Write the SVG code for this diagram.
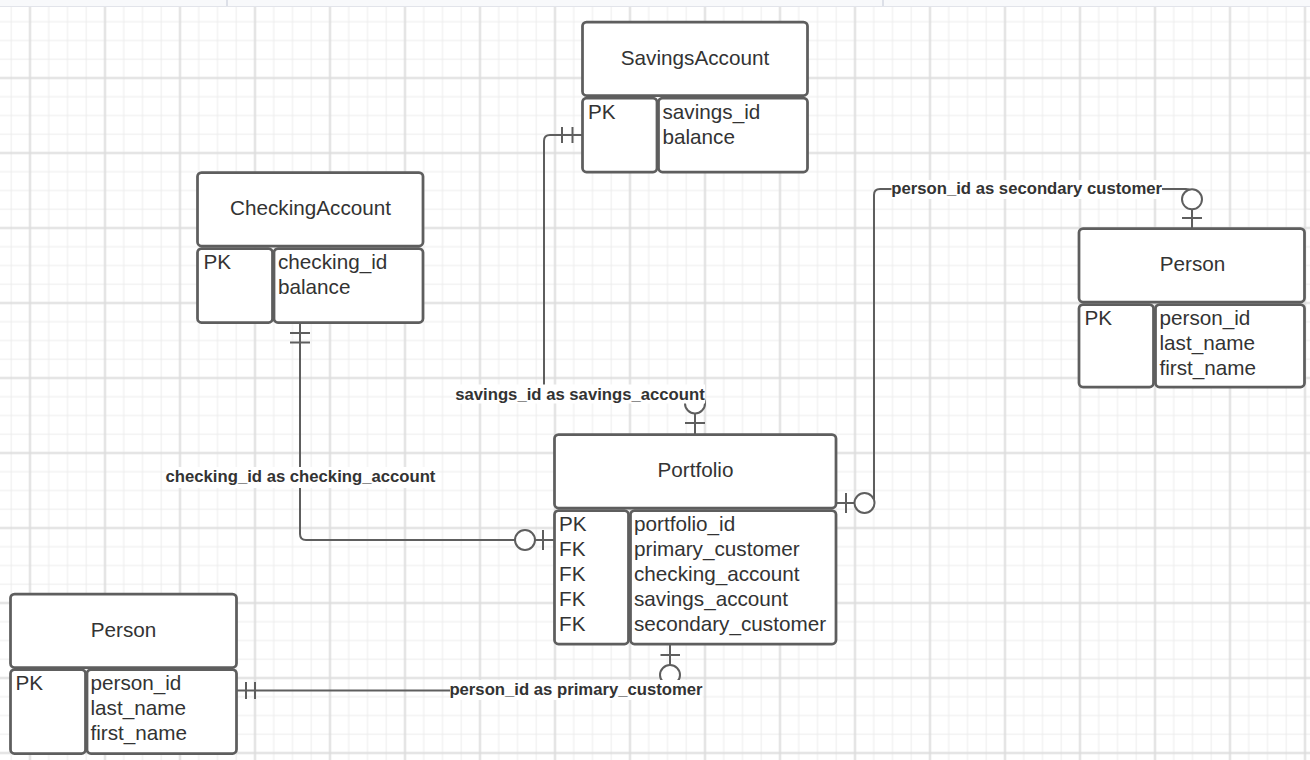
<svg xmlns="http://www.w3.org/2000/svg" width="1310" height="760" viewBox="0 0 1310 760">
<defs>
<pattern id="grid" width="75" height="75" patternUnits="userSpaceOnUse" x="20.625" y="-6.375">
<rect x="27.625" y="0" width="1" height="75" fill="#ececec"/>
<rect x="46.375" y="0" width="1" height="75" fill="#ececec"/>
<rect x="65.125" y="0" width="1" height="75" fill="#ececec"/>
<rect x="0" y="27.625" width="75" height="1" fill="#ececec"/>
<rect x="0" y="46.375" width="75" height="1" fill="#ececec"/>
<rect x="0" y="65.125" width="75" height="1" fill="#ececec"/>
<rect x="8.375" y="0" width="2" height="75" fill="#dddddd"/>
<rect x="0" y="8.375" width="75" height="2" fill="#dddddd"/>
</pattern>
<style>
.box{fill:#ffffff;stroke:#5e5e5e;stroke-width:2.75}
.t{font-family:"Liberation Sans",Arial,sans-serif;font-size:20.7px;fill:#333333}
.c{text-anchor:middle}
.ln{fill:none;stroke:#5e5e5e;stroke-width:2}
.zero{fill:#ffffff;stroke:#5e5e5e;stroke-width:2}
.lbl{font-family:"Liberation Sans",Arial,sans-serif;font-size:16.7px;font-weight:bold;fill:#333333;text-anchor:middle}
.lb{fill:#ffffff}
</style>
</defs>
<rect x="0" y="0" width="1310" height="760" fill="#ffffff"/>
<rect x="0" y="0" width="1310" height="760" fill="url(#grid)"/>
<rect x="0" y="0" width="1310" height="6" fill="#f8f9fb"/>
<rect x="0" y="6" width="1310" height="1" fill="#e2e4ea"/>
<rect x="226" y="0" width="2" height="6" fill="#dde0e8"/>
<rect x="882" y="0" width="2" height="6" fill="#dde0e8"/>

<g id="connectors">
  <g id="c-checking">
    <path class="ln" d="M300,323 V534 Q300,540 306,540 H554"/>
    <path class="ln" d="M290,333 H310 M290,342.5 H310"/>
    <path class="ln" d="M543,530 V550"/>
    <circle class="zero" cx="525" cy="540" r="10"/>
    <rect class="lb" x="166" y="467" width="269" height="21"/>
    <text class="lbl" x="300.5" y="481.5">checking_id as checking_account</text>
  </g>
  <g id="c-savings">
    <path class="ln" d="M582.5,135 H550 Q544,135 544,141 V393 H695 V434"/>
    <path class="ln" d="M562,127 V143 M572.5,127 V143"/>
    <path class="ln" d="M685,423 H705"/>
    <circle class="zero" cx="695" cy="403.5" r="10"/>
    <rect class="lb" x="455" y="384.5" width="250" height="19"/>
    <text class="lbl" x="580" y="399.5">savings_id as savings_account</text>
  </g>
  <g id="c-secondary">
    <path class="ln" d="M836,503 H874 V195 Q874,189 880,189 H1186 Q1192,189 1192,195 V228.5"/>
    <path class="ln" d="M846,493 V513"/>
    <circle class="zero" cx="864.5" cy="503" r="10"/>
    <path class="ln" d="M1182,218 H1202"/>
    <circle class="zero" cx="1192" cy="199.3" r="10"/>
    <rect class="lb" x="891.5" y="180" width="270.5" height="19"/>
    <text class="lbl" x="1026.7" y="193.8">person_id as secondary customer</text>
  </g>
  <g id="c-primary">
    <path class="ln" d="M236,690.5 H664 Q670,690.5 670,684.5 V644"/>
    <path class="ln" d="M246,682 V699 M255,682 V699"/>
    <path class="ln" d="M660.5,655 H680"/>
    <circle class="zero" cx="670" cy="675" r="10"/>
    <rect class="lb" x="450" y="680" width="252.5" height="20"/>
    <text class="lbl" x="576" y="694.8">person_id as primary_customer</text>
  </g>
</g>

<g id="savings-account">
  <rect class="box" x="582.5" y="22" width="225" height="73.5" rx="4"/>
  <rect class="box" x="582.5" y="98" width="74.5" height="74" rx="4"/>
  <rect class="box" x="658.5" y="98" width="149" height="74" rx="4"/>
  <text class="t c" x="695" y="65">SavingsAccount</text>
  <text class="t" x="588" y="118.5">PK</text>
  <text class="t" x="662.5" y="118.5">savings_id</text>
  <text class="t" x="662.5" y="143.5">balance</text>
</g>

<g id="checking-account">
  <rect class="box" x="197.5" y="172.5" width="225.5" height="73.5" rx="4"/>
  <rect class="box" x="197.5" y="248.5" width="75" height="74" rx="4"/>
  <rect class="box" x="274" y="248.5" width="149" height="74" rx="4"/>
  <text class="t c" x="310.5" y="215">CheckingAccount</text>
  <text class="t" x="203.5" y="269">PK</text>
  <text class="t" x="278" y="269">checking_id</text>
  <text class="t" x="278" y="294">balance</text>
</g>

<g id="person-secondary">
  <rect class="box" x="1079" y="228.5" width="225.5" height="73.5" rx="4"/>
  <rect class="box" x="1079" y="304.5" width="74.5" height="82.5" rx="4"/>
  <rect class="box" x="1155.5" y="304.5" width="149" height="82.5" rx="4"/>
  <text class="t c" x="1192.5" y="271">Person</text>
  <text class="t" x="1084.5" y="324.5">PK</text>
  <text class="t" x="1159.5" y="324.5">person_id</text>
  <text class="t" x="1159.5" y="349.5">last_name</text>
  <text class="t" x="1159.5" y="374.5">first_name</text>
</g>

<g id="portfolio">
  <rect class="box" x="554.5" y="434.5" width="281.5" height="73.5" rx="4"/>
  <rect class="box" x="554.5" y="510.5" width="74" height="133.5" rx="4"/>
  <rect class="box" x="630.5" y="510.5" width="205.5" height="133.5" rx="4"/>
  <text class="t c" x="695.5" y="477">Portfolio</text>
  <text class="t" x="559" y="530.5">PK</text>
  <text class="t" x="559" y="555.5">FK</text>
  <text class="t" x="559" y="580.5">FK</text>
  <text class="t" x="559" y="605.5">FK</text>
  <text class="t" x="559" y="630.5">FK</text>
  <text class="t" x="634" y="530.5">portfolio_id</text>
  <text class="t" x="634" y="555.5">primary_customer</text>
  <text class="t" x="634" y="580.5">checking_account</text>
  <text class="t" x="634" y="605.5">savings_account</text>
  <text class="t" x="634" y="630.5">secondary_customer</text>
</g>

<g id="person-primary">
  <rect class="box" x="10.5" y="594" width="226" height="73.5" rx="4"/>
  <rect class="box" x="10.5" y="669.5" width="75" height="84" rx="4"/>
  <rect class="box" x="87" y="669.5" width="149.5" height="84" rx="4"/>
  <text class="t c" x="123.5" y="637">Person</text>
  <text class="t" x="15.5" y="690">PK</text>
  <text class="t" x="90.5" y="690">person_id</text>
  <text class="t" x="90.5" y="715">last_name</text>
  <text class="t" x="90.5" y="740">first_name</text>
</g>
</svg>
